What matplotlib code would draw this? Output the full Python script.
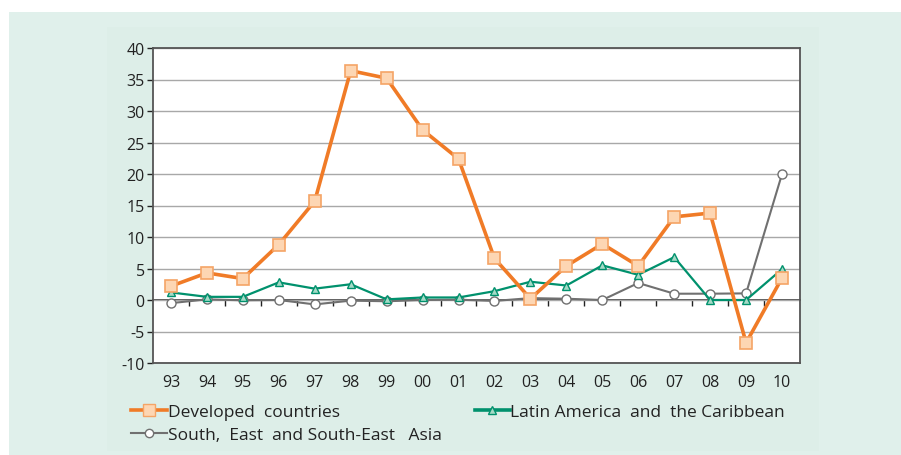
import matplotlib
matplotlib.use("Agg")
import matplotlib.pyplot as plt
from matplotlib.patches import Rectangle
from matplotlib.lines import Line2D

years = ["93", "94", "95", "96", "97", "98", "99", "00", "01", "02",
         "03", "04", "05", "06", "07", "08", "09", "10"]
developed = [2.2, 4.3, 3.4, 8.8, 15.7, 36.4, 35.2, 27.0, 22.4, 6.6,
             0.2, 5.4, 8.9, 5.4, 13.2, 13.8, -6.8, 3.5]
latin = [1.2, 0.5, 0.5, 2.8, 1.8, 2.5, 0.1, 0.4, 0.4, 1.4,
         2.9, 2.3, 5.5, 4.0, 6.8, 0.0, 0.0, 4.9]
asia = [-0.5, 0.1, -0.05, 0.0, -0.7, -0.1, -0.2, 0.0, 0.05, -0.15,
        0.3, 0.2, 0.0, 2.7, 1.0, 1.0, 1.05, 20.0]
yticks = [-10, -5, 0, 5, 10, 15, 20, 25, 30, 35, 40]
names = ["Developed  countries", "Latin America  and  the Caribbean",
         "South,  East  and South-East   Asia"]

plt.rcParams['font.family'] = ['Open Sans', 'DejaVu Sans']
W, H = 901, 456
fig = plt.figure(figsize=(W / 100, H / 100), dpi=100)
fig.patch.set_facecolor('white')

# background panels
fig.patches.append(Rectangle((9 / W, 0), 1 - 9 / W, 1 - 13 / H,
                             transform=fig.transFigure, facecolor='#e0f0eb',
                             edgecolor='none', zorder=-10))
fig.patches.append(Rectangle((107 / W, 4 / H), (819 - 107) / W, (428 - 4) / H,
                             transform=fig.transFigure, facecolor='#ddeee8',
                             edgecolor='none', zorder=-9))

ax = fig.add_axes([153 / W, (H - 364) / H, (800 - 153) / W, (364 - 49) / H])
ax.set_facecolor('white')
x = list(range(len(years)))

ax.set_xlim(-0.5, len(years) - 0.5)
ax.set_ylim(-10, 40)
ax.set_yticks(yticks)
ax.set_yticklabels([str(v) for v in yticks])
ax.yaxis.grid(True, color='#a8a8a8', linewidth=1)
ax.set_axisbelow(True)

for s in ax.spines.values():
    s.set_color('#555555')
    s.set_linewidth(1.3)

ax.set_xticks(x)
ax.set_xticklabels(years)
ax.tick_params(axis='x', length=0, pad=8, labelsize=11.5, colors='#222222')
ax.tick_params(axis='y', length=4, width=1, direction='out', pad=2,
               labelsize=11.5, colors='#222222')

sec = ax.secondary_xaxis(0.2)
sec.set_xticks([i + 0.5 for i in x[:-1]])
sec.set_xticklabels([])
sec.tick_params(axis='x', length=4, width=1, direction='out', colors='#222222')
sec.spines['bottom'].set_color('#333333')
sec.spines['bottom'].set_linewidth(1.2)

ax.plot(x, asia, color='#707070', linewidth=1.5, marker='o', markersize=6.5,
        markerfacecolor='white', markeredgecolor='#707070',
        markeredgewidth=1, zorder=3)
ax.plot(x, latin, color='#00916d', linewidth=1.6, marker='^', markersize=6,
        markerfacecolor='#a5dac6', markeredgecolor='#00916d',
        markeredgewidth=1, zorder=4)
ax.plot(x, developed, color='#f07b27', linewidth=2.6, marker='s',
        markersize=8.5, markerfacecolor='#fdd6b3', markeredgecolor='#f5a466',
        markeredgewidth=1.2, zorder=5)

h_dev = Line2D([], [], color='#f07b27', linewidth=2.6, marker='s', markersize=8,
               markerfacecolor='#fdd6b3', markeredgecolor='#f5a466')
h_lat = Line2D([], [], color='#00916d', linewidth=2.6, marker='^', markersize=6,
               markerfacecolor='#a5dac6', markeredgecolor='#00916d')
h_asia = Line2D([], [], color='#707070', linewidth=1.5, marker='o', markersize=6,
                markerfacecolor='white', markeredgecolor='#707070')

leg1 = fig.legend([h_dev, h_asia], [names[0], names[2]], loc='upper left',
                  bbox_to_anchor=(131 / W, 1 - 405 / H), frameon=False,
                  fontsize=12.5, handlelength=2.1, handletextpad=0.02,
                  labelspacing=0.4, borderpad=0, borderaxespad=0)
leg2 = fig.legend([h_lat], [names[1]], loc='upper left',
                  bbox_to_anchor=(475 / W, 1 - 405 / H), frameon=False,
                  fontsize=12.5, handlelength=2.0, handletextpad=0.02,
                  borderpad=0, borderaxespad=0)
for t in leg1.get_texts() + leg2.get_texts():
    t.set_color('#222222')

fig.savefig('out.png', dpi=100, facecolor=fig.get_facecolor())
